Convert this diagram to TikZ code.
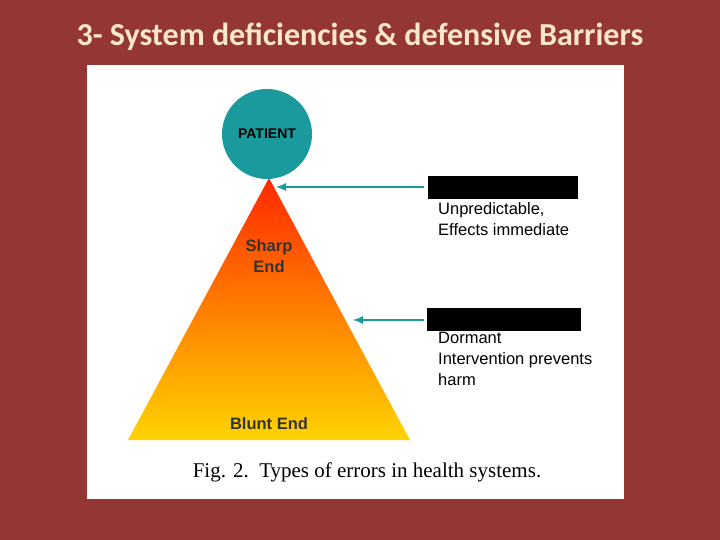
\documentclass[tikz,border=0pt]{standalone}
\usepackage{fontspec}
\setmainfont{Liberation Sans}
\newfontfamily\titlefont{Carlito}
\newfontfamily\capfont{Liberation Serif}
\definecolor{bg}{HTML}{943634}
\definecolor{teal}{HTML}{1A9A9C}
\definecolor{cream}{HTML}{FCE8C8}
\begin{document}
\begin{tikzpicture}[x=1pt,y=-1pt,
  lbl/.style={font=\fontsize{16.5}{21}\selectfont, align=left, anchor=north west, inner sep=0},
  arr/.style={draw=teal, line width=1.2pt, -{Latex[length=10pt,width=8pt]}},
  bar/.style={fill=black, draw=none}]
\usetikzlibrary{arrows.meta}
\fill[bg] (0,0) rectangle (720,540);
\useasboundingbox (0,0) rectangle (720,540);
\node[text=cream, font=\titlefont\bfseries\fontsize{32}{36}\selectfont] (title) at (360,37) {3- System deficiencies \& defensive Barriers};
\fill[white] (87,65) rectangle (624,499);
\shade[top color={rgb,255:red,255;green,40;blue,0}, middle color={rgb,255:red,255;green,150;blue,0}, bottom color={rgb,255:red,255;green,212;blue,0}] (269,178) -- (410,440) -- (128,440) -- cycle;
\node[circle, fill=teal, minimum size=90pt, inner sep=0, font=\bfseries\fontsize{14}{16}\selectfont] (patient) at (267,134) {PATIENT};
\node[font=\bfseries\fontsize{16.5}{21}\selectfont, align=center, text=black!80] (sharp) at (269,256) {Sharp\\End};
\node[font=\bfseries\fontsize{16.5}{21}\selectfont, text=black!80] (blunt) at (269,424) {Blunt End};
\coordinate (a1s) at (424,187); \coordinate (a1e) at (276,187);
\coordinate (a2s) at (424,320); \coordinate (a2e) at (353,320);
\draw[arr] (a1s) -- (a1e);
\draw[arr] (a2s) -- (a2e);
\fill[bar] (428,176) rectangle (578,199);
\fill[bar] (427,308) rectangle (581,331);
\node[lbl] (t1) at (438,202) {Unpredictable,\\Effects immediate};
\node[lbl] (t2) at (438,332) {Dormant\\Intervention prevents\\harm};
\node[font=\capfont\fontsize{21}{24}\selectfont] (cap) at (367,472) {Fig. 2.\ \ Types of errors in health systems.};
\end{tikzpicture}
\end{document}
